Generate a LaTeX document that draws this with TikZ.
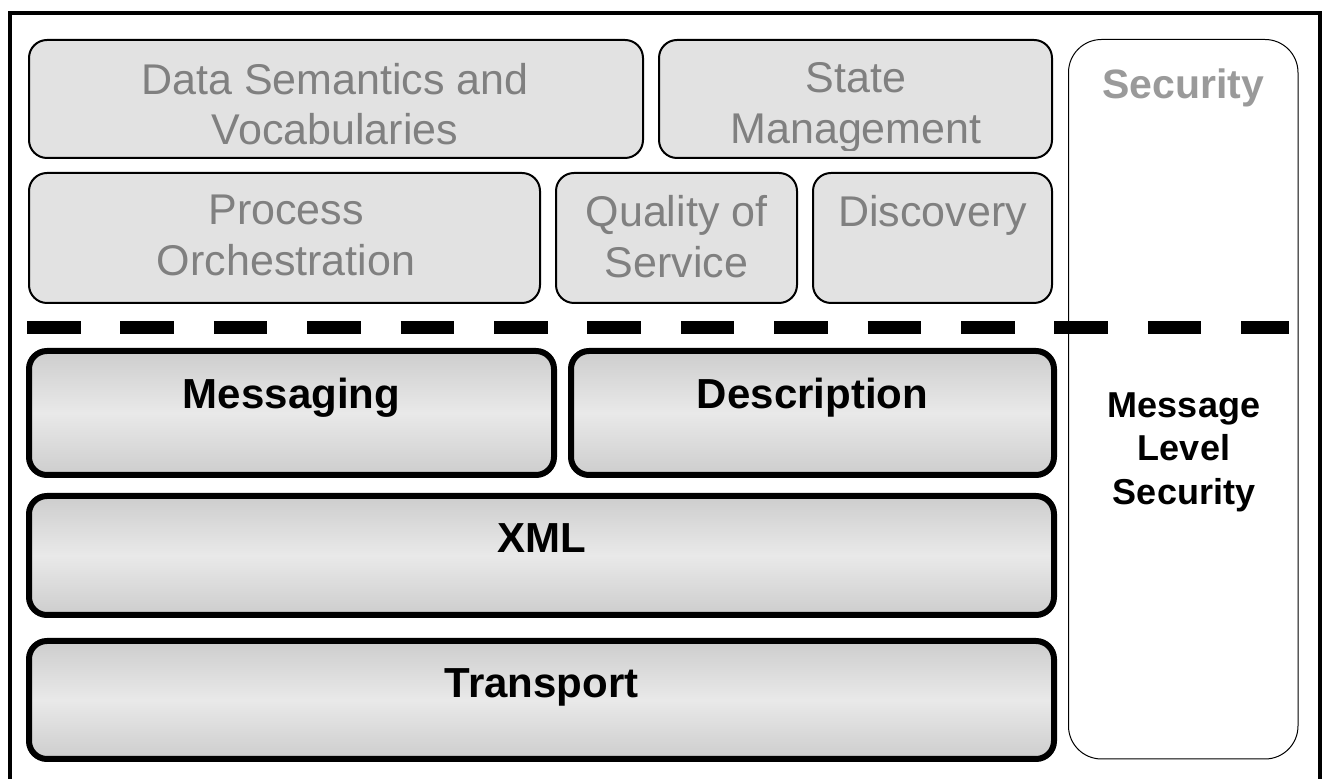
\documentclass[tikz,border=0pt]{standalone}
\usepackage{fontspec}
\setmainfont{Liberation Sans}
\usetikzlibrary{fit}
\definecolor{topfill}{HTML}{E2E2E2}
\definecolor{toptextc}{HTML}{808080}
\definecolor{sectextc}{HTML}{9A9A9A}
\definecolor{botdark}{HTML}{CDCDCD}
\definecolor{botlight}{HTML}{E9E9E9}
\begin{document}
\begin{tikzpicture}[x=0.5pt,y=-0.5pt,
  topbox/.style={draw=black, line width=1pt, fill=topfill, rounded corners=9pt, inner sep=0pt},
  botbox/.style={draw=black, line width=3pt, top color=botdark, bottom color=botdark, middle color=botlight, rounded corners=9pt, inner sep=0pt},
  secbox/.style={draw=black, line width=0.5pt, fill=white, rounded corners=16.5pt, inner sep=0pt},
  toptext/.style={text=toptextc, font=\fontsize{21.5}{25.25}\selectfont, align=center, anchor=north, inner sep=0pt},
  bottext/.style={text=black, font=\bfseries\fontsize{21}{25}\selectfont, align=center, anchor=north, inner sep=0pt},
  sectext/.style={text=sectextc, font=\bfseries\fontsize{20.5}{25}\selectfont, align=center, anchor=north, inner sep=0pt},
  mlstext/.style={text=black, font=\bfseries\fontsize{18}{21.75}\selectfont, align=center, anchor=north, inner sep=0pt},
  frameline/.style={draw=black, line width=2pt},
  dashline/.style={draw=black, line width=6.5pt, dash pattern=on 26.75pt off 19.95pt}
]
\useasboundingbox (0,0) rectangle (1324,779);
\fill[white] (0,0) rectangle (1324,779);

% outer frame (open at the bottom)
\coordinate (f1) at (10,785);
\coordinate (f2) at (10,13.5);
\coordinate (f3) at (1320,13.5);
\coordinate (f4) at (1320,785);
\draw[frameline] (f1) -- (f2) -- (f3) -- (f4);

% upper (grey) boxes
\node[topbox, fit={(29,40) (643,158)}] (ds) {};
\node[topbox, fit={(659,40) (1052,158)}] (sm) {};
\node[topbox, fit={(29,173) (540,303)}] (po) {};
\node[topbox, fit={(556,173) (797,303)}] (qs) {};
\node[topbox, fit={(813,173) (1052,303)}] (dc) {};

\node[toptext] (dst) at (335,62.5) {Data Semantics and\\Vocabularies};
\begin{scope}
  \clip (650,40) rectangle (1060,151);
  \node[toptext] (smt) at (856,62.5) {State\\Management};
\end{scope}
\node[toptext] (pot) at (286,195) {Process\\Orchestration};
\node[toptext] (qst) at (676.5,195) {Quality of\\Service};
\node[toptext] (dct) at (932.5,195) {Discovery};

% security column
\node[secbox, fit={(1068.5,39.5) (1298,759)}] (sec) {};
\node[sectext] (sect) at (1183.5,68) {Security};
\node[mlstext] (mls) at (1184,392) {Message\\Level\\Security};

% dashed separator
\coordinate (d1) at (27,327.5);
\coordinate (d2) at (1289,327.5);
\draw[dashline] (d1) -- (d2);

% lower boxes
\node[botbox, fit={(29,351) (554,475)}] (msg) {};
\node[botbox, fit={(571,351) (1054,475)}] (desc) {};
\node[botbox, fit={(29,496) (1054,615)}] (xml) {};
\node[botbox, fit={(29,641) (1054,759)}] (tr) {};

\node[bottext] (msgt) at (291.5,378) {Messaging};
\node[bottext] (desct) at (812.5,378) {Description};
\node[bottext] (xmlt) at (541.5,523) {XML};
\node[bottext] (trt) at (541.5,668) {Transport};
\end{tikzpicture}
\end{document}
